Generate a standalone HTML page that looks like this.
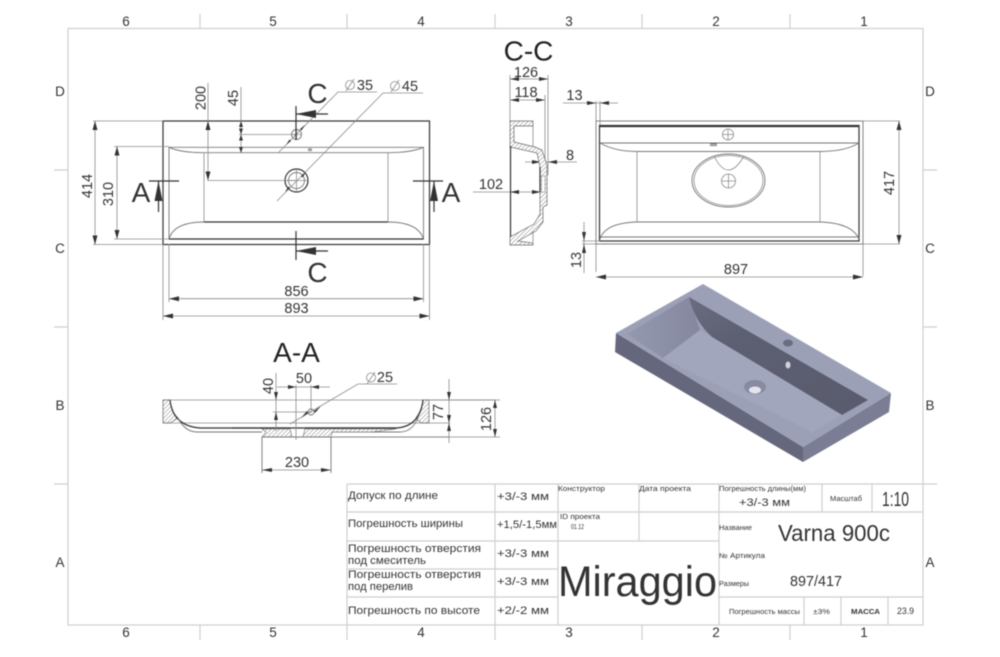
<!DOCTYPE html>
<html><head><meta charset="utf-8"><style>
html,body{margin:0;padding:0;background:#fff;width:1000px;height:657px;overflow:hidden}
svg{display:block;filter:blur(.6px)}
text{font-family:"Liberation Sans",sans-serif;fill:#333}
.fr{stroke:#cfcfcf;stroke-width:1.2;fill:none}
.d{stroke:#8a8a8a;stroke-width:.8;fill:none}
.k{stroke:#333;stroke-width:1.2;fill:none}
.m{stroke:#777;stroke-width:.9;fill:none}
.dm{font-size:14.5px;fill:#444}
.big{font-size:28px;fill:#222}
.z{font-size:13.5px;fill:#444}
.t{font-family:"DejaVu Sans",sans-serif;fill:#444;font-size:11px}
.s{font-family:"DejaVu Sans",sans-serif;fill:#555;font-size:7px}
.ar{fill:#333;stroke:none}
</style></head><body>
<svg width="1000" height="657" viewBox="0 0 1000 657" xmlns="http://www.w3.org/2000/svg">
<defs>
<pattern id="ht" width="3" height="3" patternUnits="userSpaceOnUse" patternTransform="rotate(45)"><rect width="3" height="3" fill="#fff"/><line x1="0" y1="0" x2="0" y2="3" stroke="#777" stroke-width=".9"/></pattern>
<linearGradient id="g2" x1="0" y1="0" x2="1" y2="0"><stop offset="0" stop-color="#9599af"/><stop offset="1" stop-color="#84879d"/></linearGradient>
<linearGradient id="dw" x1="0" y1="0" x2="1" y2="1"><stop offset="0" stop-color="#6a6c80"/><stop offset=".3" stop-color="#5d5f72"/><stop offset="1" stop-color="#5a5c6e"/></linearGradient>
</defs>

<!-- frame -->
<rect class="fr" x="68" y="28.500" width="855" height="596.500"/>
<path class="fr" d="M200 14V28M347 14V28M495 14V28M642 14V28M790 14V28M200 625V640M347 625V640M495 625V640M642 625V640M790 625V640M54 170H68M54 327H68M54 484H68M923 170H937M923 327H937M923 484H937"/>
<g class="z" text-anchor="middle">
<text x="126" y="26">6</text><text x="273" y="26">5</text><text x="421" y="26">4</text><text x="569" y="26">3</text><text x="716" y="26">2</text><text x="864" y="26">1</text>
<text x="126" y="637">6</text><text x="273" y="637">5</text><text x="421" y="637">4</text><text x="569" y="637">3</text><text x="716" y="637">2</text><text x="864" y="637">1</text>
<text x="60" y="96">D</text><text x="60" y="253">C</text><text x="60" y="410">B</text><text x="60" y="567">A</text>
<text x="930" y="96">D</text><text x="930" y="253">C</text><text x="930" y="410">B</text><text x="930" y="567">A</text>
</g>

<!-- TOP VIEW -->
<rect class="k" x="163" y="121" width="266.500" height="123.500" stroke-width="1.400"/>
<path class="m" d="M169 147.300H423.500V239H169Z"/>
<path class="m" d="M169 147.300Q180 152.500 204 152.700H388Q412 152.500 423.500 147.300"/>
<path class="m" d="M169 239Q174 222 204 222H388Q418 222 423.500 239"/>
<path class="k" d="M204 222H388M169 239H423.500" stroke-width=".9"/>
<path class="d" d="M204 152.700V222M388 152.700V222"/>
<circle class="m" cx="296.500" cy="134.500" r="5"/>
<circle class="k" cx="296.500" cy="180.500" r="11.500"/>
<circle class="m" cx="296.500" cy="180.500" r="8"/>
<path class="d" d="M292 134.500H301M296.500 130V139M285 180.500H308M296.500 169V192"/>
<path class="m" d="M308 149H312M308 150.500H312"/>
<!-- dims top -->
<path class="d" d="M208 83V180.500H296M241 87V153M239 134.500H296M93 121H163M93 244.500H163M114 146.500H169M114 239H169M95 121V244.500M117 146.500V239M169 244V302M423.500 244V302M163 244V320M429.500 244V320M169 298.700H423.500M163 316H429.500"/>
<path class="d" d="M278 153L338 92H377M277 201L383 93H423"/>
<path class="ar" d="M95 121l-2.500 9h5zM95 244.500l-2.500-9h5zM117 146.500l-2.500 9h5zM117 239l-2.500-9h5zM208 121l-2.500 9h5zM208 180.500l-2.500-9h5zM241 121l-2 6h4zM241 134.500l-2-6h4zM241 134.500l-2 6h4zM241 153l-2-6h4zM169 298.700l10-2.500v5zM423.500 298.700l-10-2.500v5zM163 316l10-2.500v5zM429.500 316l-10-2.500v5z"/>
<path class="ar" d="M305 125l-5 4 1.500 1.500zM286 145l5-4-1.500-1.500zM306 172l-5 4 1.500 1.500zM285 192l5-4-1.500-1.500z"/>
<g class="dm" text-anchor="middle">
<text x="296.500" y="296">856</text><text x="296.500" y="313">893</text>
<text transform="translate(205.500 98)rotate(-90)">200</text><text transform="translate(238 98)rotate(-90)">45</text>
<text transform="translate(92 186)rotate(-90)">414</text><text transform="translate(113 194)rotate(-90)">310</text>
<text x="365" y="90">35</text><text x="410" y="91">45</text>
</g>
<g class="d"><circle cx="350" cy="85" r="4.500"/><path d="M346 91L354 79"/><circle cx="395" cy="86" r="4.500"/><path d="M391 92L399 80"/></g>
<!-- section marks -->
<path class="k" d="M296 106V140M296 231V260M296 114H328M296 251H328M149 181H179M413 181H443M158.500 181V212M434 181V212" stroke-width="1"/>
<path class="ar" d="M296 114l20-4v8zM296 251l20-4v8zM158.500 181l-4 20h8zM434 181l-4 20h8z"/>
<g class="big" text-anchor="middle"><text x="317.500" y="103">C</text><text x="317.500" y="282">C</text><text x="141" y="202">A</text><text x="451" y="202">A</text></g>

<!-- C-C section -->
<text class="big" x="528.500" y="60.500" text-anchor="middle">C-C</text>
<g class="dm" text-anchor="middle"><text x="526" y="77">126</text><text x="526" y="97">118</text><text x="491" y="189">102</text><text x="570" y="160">8</text></g>
<path class="d" d="M510 75V121M548 75V175M545 95V160M510 79H548M510 100H545M473 192H541M525 162H577"/>
<path class="ar" d="M510 79l9-2v4zM548 79l-9-2v4zM510 100l9-2v4zM545 100l-9-2v4zM510 192l9-2v4zM541 192l-9-2v4zM541 162l-9-2v4zM548 162l9-2v4z"/>
<path fill="url(#ht)" stroke="#666" stroke-width=".7" d="M510 121H533V126H514V142L535 147L542 150L547 165V205L543 207V222L536 231L518 241L533 243V245H510V237L534 224L540 214V167L537 153L510 147Z"/>
<rect x="541.500" y="176" width="3.500" height="16" fill="#fff" stroke="#888" stroke-width=".6"/>
<path class="k" d="M510.500 146V237" stroke-width="1"/>
<path class="k" d="M540 167V192" stroke-width="1.400"/>
<path class="d" d="M533 126V146M533 231V243"/>

<!-- front right view -->
<rect class="m" x="596" y="121" width="267" height="123"/>
<rect class="k" x="599.500" y="125.500" width="259.500" height="115.500"/>
<path class="k" d="M600 126.500H859" stroke-width="1.800"/>
<path class="m" d="M600 143H859M600 143Q615 151.500 637 151.500H820Q845 151.500 859 143"/>
<path class="m" d="M600 239Q605 223 637 222H820Q852 223 859 239M600 237H859"/>
<path class="d" d="M637 151.500V222M820 151.500V222"/>
<ellipse class="m" cx="728.500" cy="180.500" rx="36.500" ry="26.500" stroke-width="1.200"/>
<ellipse class="d" cx="728.500" cy="180.500" rx="34.500" ry="25"/>
<path class="d" d="M714 156Q728 184 744 156"/>
<circle class="d" cx="728.500" cy="181" r="7"/><path class="d" d="M721.500 181H735.500M728.500 174V188"/>
<circle class="d" cx="728" cy="134.500" r="5.500"/><path class="d" d="M722.500 134.500H733.500M728 129V140"/>
<path class="m" d="M710 144H717M710 145.500H717"/>
<path class="d" d="M596 101V272M600 101V125M863 121H900M863 244H900M863 244V276M563 103H618M584 222V273M582 241H600M582 244H596M899 121V244M596 277H863"/>
<path class="ar" d="M596 103l-9-2v4zM600 103l9-2v4zM899 121l-2.500 9h5zM899 244l-2.500-9h5zM596 277l10-2.500v5zM863 277l-10-2.500v5zM584 241l-2-9h4zM584 244l-2 9h4z"/>
<g class="dm" text-anchor="middle"><text x="574.500" y="100">13</text><text x="736" y="274">897</text>
<text transform="translate(894 183)rotate(-90)">417</text><text transform="translate(581 260)rotate(-90)">13</text></g>

<!-- A-A section -->
<text class="big" x="296.500" y="362" text-anchor="middle">A-A</text>
<path class="d" d="M163 400H496M290 423H450M163 423H429"/>
<path fill="url(#ht)" stroke="#666" stroke-width=".7" d="M163 400H170Q171 412 178 418L170 423H163ZM423 400H429V423H421L416 418Q422 410 423 400Z"/>
<path class="k" d="M170 400Q173 426 200 428H397Q420 426 423 400" stroke-width=".9"/>
<path class="m" d="M178 418Q185 432 197 432H262M332 432H400Q412 432 418 418"/>
<path fill="url(#ht)" stroke="#666" stroke-width=".6" d="M262 437L266 432L262 429H290L292 437ZM303 437L305 429H396L372 432H332L331 437Z"/>
<path class="m" d="M262 437H331M262 437V473M331 437V473M331 437H450"/>
<path class="k" d="M232 428H290M305 428H397" stroke-width="1"/>
<path class="d" d="M276 373V431M296 385V440M311 385V413M277 387H330M273 412H311M290 424L358 384H397M430 400H500M449 379V443M495 400V437M331 437H500M262 470H331"/>
<path class="ar" d="M276 400l-2-8h4zM276 412l-2 8h4zM296 387l-8-2v4zM311 387l8-2v4zM321 406l-7 5 1 2zM301 418l7-5-1-2zM449 400l-2-8h4zM449 423l-2-8h4zM449 423l-2 8h4zM495 400l-2 8h4zM495 437l-2-8h4zM262 470l10-2v4zM331 470l-10-2v4z"/>
<circle class="m" cx="311" cy="412" r="3"/>
<g class="dm" text-anchor="middle"><text x="304" y="383">50</text><text x="385" y="382">25</text><text x="297" y="467">230</text>
<text transform="translate(273 386)rotate(-90)">40</text><text transform="translate(443 412)rotate(-90)">77</text><text transform="translate(491 419)rotate(-90)">126</text></g>
<g class="d"><circle cx="371" cy="377.500" r="4.500"/><path d="M367 384L375 372"/></g>

<!-- 3D sink -->
<polygon points="616,333 615,352 803,462 803,447" fill="#65677c"/>
<polygon points="803,447 803,462 889,412 891,393" fill="#7a7d93"/>
<polygon points="616,333 703,284 891,393 803,447" fill="#9ca0b7"/>
<polygon points="627,334 689,297 700,330 663,358" fill="url(#g2)"/>
<path d="M689 297L868,400 842,415 712,337Q695,322 689,297Z" fill="url(#dw)"/>
<polygon points="663,358 700,330 712,337 842,415 812,432" fill="#a2a6bd"/>
<ellipse cx="755" cy="387" rx="11" ry="7" fill="#878aa1"/>
<ellipse cx="755" cy="390" rx="6" ry="3.500" fill="#e4e5ec"/>
<ellipse cx="788" cy="343" rx="5" ry="3.500" fill="#6a6d82"/>
<ellipse cx="788" cy="365" rx="2.500" ry="3.500" fill="#d0d2de"/>

<!-- title block -->
<path class="fr" d="M347 484V625M347 484H923M347 512H719M347 541H719M347 569H558M347 597H558M495 484V625M558 484V625M639 484V541M719 484V625M719 512H923M719 597H923M822 484V512M872 484V512M804 597V625M841 597V625M888 597V625"/>
<g class="t">
<text x="348" y="499" textLength="90" lengthAdjust="spacingAndGlyphs">Допуск по длине</text>
<text x="348" y="527" textLength="115" lengthAdjust="spacingAndGlyphs">Погрешность ширины</text>
<text x="348" y="552" textLength="133" lengthAdjust="spacingAndGlyphs">Погрешность отверстия</text>
<text x="348" y="564" textLength="78" lengthAdjust="spacingAndGlyphs">под смеситель</text>
<text x="348" y="578" textLength="133" lengthAdjust="spacingAndGlyphs">Погрешность отверстия</text>
<text x="348" y="590" textLength="65" lengthAdjust="spacingAndGlyphs">под перелив</text>
<text x="348" y="614" textLength="132" lengthAdjust="spacingAndGlyphs">Погрешность по высоте</text>
<text x="497" y="500" textLength="52" lengthAdjust="spacingAndGlyphs">+3/-3 мм</text>
<text x="497" y="528" textLength="60" lengthAdjust="spacingAndGlyphs">+1,5/-1,5мм</text>
<text x="497" y="557" textLength="52" lengthAdjust="spacingAndGlyphs">+3/-3 мм</text>
<text x="497" y="585" textLength="52" lengthAdjust="spacingAndGlyphs">+3/-3 мм</text>
<text x="497" y="614" textLength="52" lengthAdjust="spacingAndGlyphs">+2/-2 мм</text>
<text x="739" y="506" textLength="51" lengthAdjust="spacingAndGlyphs">+3/-3 мм</text>
<text x="790" y="586" textLength="52" font-size="15" lengthAdjust="spacingAndGlyphs">897/417</text>
</g>
<g class="s">
<text x="558" y="491" textLength="47" lengthAdjust="spacingAndGlyphs">Конструктор</text>
<text x="639" y="491" textLength="52" lengthAdjust="spacingAndGlyphs">Дата проекта</text>
<text x="560" y="519" textLength="40" lengthAdjust="spacingAndGlyphs">ID проекта</text>
<text x="571" y="529" textLength="13" lengthAdjust="spacingAndGlyphs">01.12</text>
<text x="719" y="491" textLength="87" lengthAdjust="spacingAndGlyphs">Погрешность длины(мм)</text>
<text x="830" y="501" textLength="32" lengthAdjust="spacingAndGlyphs">Масштаб</text>
<text x="719" y="530" textLength="33" lengthAdjust="spacingAndGlyphs">Название</text>
<text x="719" y="558" textLength="46" lengthAdjust="spacingAndGlyphs">№ Артикула</text>
<text x="719" y="586" textLength="30" lengthAdjust="spacingAndGlyphs">Размеры</text>
<text x="729" y="614" textLength="71" lengthAdjust="spacingAndGlyphs">Погрешность массы</text>
<text x="813" y="614" textLength="17" lengthAdjust="spacingAndGlyphs">±3%</text>
<text x="851" y="614" textLength="29" font-weight="bold" lengthAdjust="spacingAndGlyphs">МАССА</text>
<text x="897" y="614" textLength="17" font-size="9" lengthAdjust="spacingAndGlyphs">23.9</text>
</g>
<text x="882" y="506" font-size="20" fill="#333" textLength="27" lengthAdjust="spacingAndGlyphs">1:10</text>
<text x="778" y="541" font-size="23" fill="#222" textLength="112" lengthAdjust="spacingAndGlyphs">Varna 900c</text>
<text x="558" y="596" font-size="43" fill="#222" textLength="159" lengthAdjust="spacingAndGlyphs">Miraggio</text>
</svg>
</body></html>
